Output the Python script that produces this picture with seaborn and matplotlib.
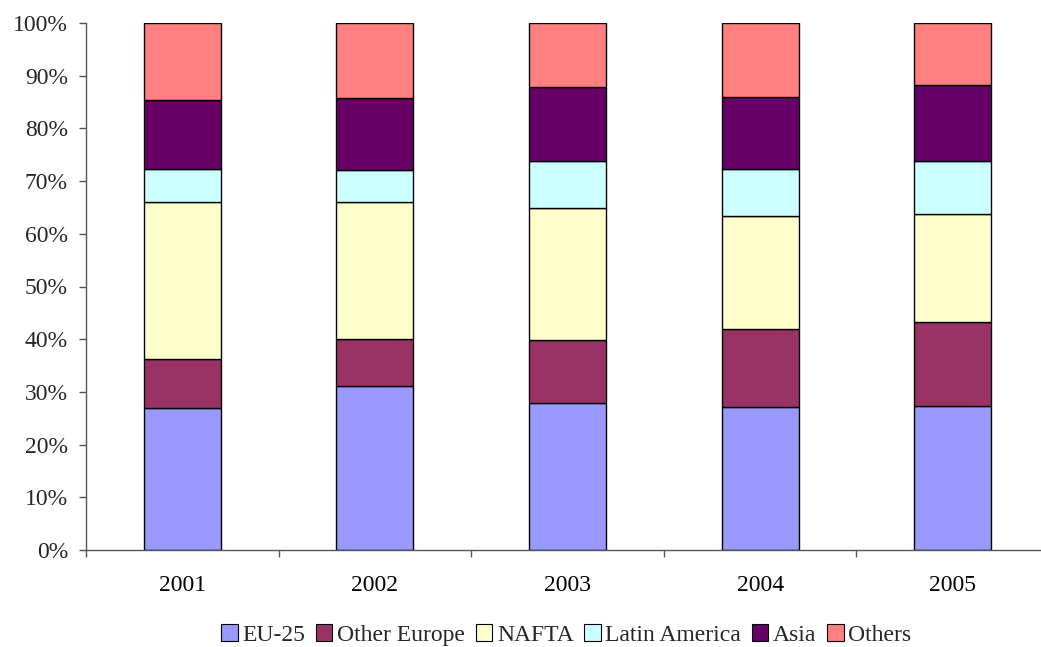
import matplotlib
matplotlib.use("Agg")
import matplotlib.pyplot as plt
from matplotlib.patches import Patch
from matplotlib.ticker import PercentFormatter, FixedLocator
import numpy as np
import pandas as pd
import seaborn as sns

years = ["2001", "2002", "2003", "2004", "2005"]
regions = ["EU-25", "Other Europe", "NAFTA", "Latin America", "Asia", "Others"]

# share of total per region (%)
eu25 = [26.9, 31.2, 27.8, 27.2, 27.3]
other_europe = [9.3, 8.8, 12.0, 14.8, 15.9]
nafta = [29.9, 26.1, 25.1, 21.3, 20.6]
latin_america = [6.2, 6.1, 9.0, 9.0, 10.0]
asia = [13.0, 13.6, 14.0, 13.6, 14.4]
others = [14.7, 14.2, 12.1, 14.1, 11.8]

colors = ["#9999FF", "#993366", "#FFFFCC", "#CCFFFF", "#660066", "#FF8080"]

series = [eu25, other_europe, nafta, latin_america, asia, others]
df = pd.DataFrame({name: vals for name, vals in zip(regions, series)}, index=years)
df.index.name = "year"

sns.set_theme(style="white")
plt.rcParams["font.family"] = ["Liberation Serif", "DejaVu Serif"]

fig = plt.figure(figsize=(10.41, 6.47), dpi=100)
ax = fig.add_axes([86 / 1041, 1 - 550 / 647, 963 / 1041, 527 / 647])

bottom = np.zeros(len(years))
for name, col in zip(regions, colors):
    sns.barplot(x=df.index, y=df[name].values, color=col, bottom=bottom,
                width=0.4, edgecolor="black", linewidth=1.0, ax=ax,
                saturation=1.0, zorder=2)
    bottom = bottom + df[name].values

ax.set_xlim(-0.5, len(years) - 0.5)
ax.set_ylim(0, 100)
ax.set_yticks(np.arange(0, 101, 10))
ax.yaxis.set_major_formatter(PercentFormatter(decimals=0))
ax.set_xlabel("")
ax.set_ylabel("")

ax.xaxis.set_minor_locator(FixedLocator(np.arange(-0.5, len(years), 1.0)))
ax.tick_params(axis="x", which="major", length=0, pad=18, labelsize=17, colors="black")
ax.tick_params(axis="x", which="minor", length=5, width=1, color="#555555", direction="out", bottom=True)
ax.tick_params(axis="y", which="major", length=5, width=1, color="#555555", pad=8,
               labelsize=17, left=True, direction="out")

for s in ["top", "right"]:
    ax.spines[s].set_visible(False)
for s in ["left", "bottom"]:
    ax.spines[s].set_color("#555555")
    ax.spines[s].set_linewidth(1)

handles = [Patch(facecolor=c, edgecolor="black", linewidth=0.8) for c in colors]
fig.legend(handles, regions, loc="center", bbox_to_anchor=(0.544, 1 - 635 / 647),
           ncol=6, frameon=False, fontsize=17, handlelength=0.7, handleheight=0.7,
           handletextpad=0.2, columnspacing=0.45, borderpad=0)

fig.savefig("out.png", dpi=100)
